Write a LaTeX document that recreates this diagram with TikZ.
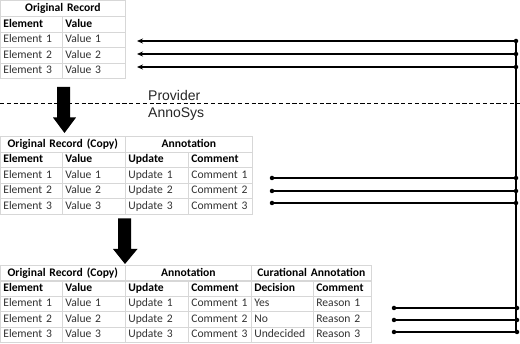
\documentclass[tikz,border=0pt]{standalone}
\usepackage{fontspec}
\setmainfont{Carlito}
\newfontfamily\arialfont{Liberation Sans}
\usetikzlibrary{arrows.meta}
\definecolor{gridc}{RGB}{215,215,215}
\definecolor{txtc}{RGB}{50,50,50}
\tikzset{
  cellbox/.style={draw=gridc, line width=0.7pt, anchor=north west, inner xsep=3pt, inner ysep=0pt,
    minimum height=15.6pt, text height=8pt, text depth=2.2pt, font=\fontsize{11.6}{13}\selectfont, text=txtc, align=left},
  headbox/.style={cellbox, font=\fontsize{11.6}{13}\selectfont\bfseries, text=black},
  titlebox/.style={headbox, align=center},
  conn/.style={line width=1.3pt, black},
  dotend/.style={fill=black, circle, inner sep=0pt, minimum size=4.5pt},
  bigarrow/.style={fill=black, draw=none},
  sidetext/.style={font=\arialfont\fontsize{14}{16}\selectfont, anchor=base west, inner sep=0pt, text=black!85}
}
\newcommand{\tcell}[6]{\node[#6, text width=#4pt-6pt] (#1) at (#2,#3) {#5};}
\begin{document}
\begin{tikzpicture}[x=1pt,y=-1pt]
\useasboundingbox (0,0) rectangle (520,344);
% ---------- Table 1 ----------
\def\ra{0.5}\def\rb{16.1}\def\rc{31.7}\def\rd{47.3}\def\re{62.9}
\tcell{ta}{0}{\ra}{125}{Original Record}{titlebox}
\tcell{tae}{0}{\rb}{62}{Element}{headbox}
\tcell{tav}{62}{\rb}{63}{Value}{headbox}
\tcell{tae1}{0}{\rc}{62}{Element 1}{cellbox}
\tcell{tav1}{62}{\rc}{63}{Value 1}{cellbox}
\tcell{tae2}{0}{\rd}{62}{Element 2}{cellbox}
\tcell{tav2}{62}{\rd}{63}{Value 2}{cellbox}
\tcell{tae3}{0}{\re}{62}{Element 3}{cellbox}
\tcell{tav3}{62}{\re}{63}{Value 3}{cellbox}
% ---------- Table 2 ----------
\def\ra{136}\def\rb{151.6}\def\rc{167.2}\def\rd{182.8}\def\re{198.4}
\tcell{tb}{0}{\ra}{125}{Original Record (Copy)}{titlebox}
\tcell{tbn}{125}{\ra}{127}{Annotation}{titlebox}
\tcell{tbe}{0}{\rb}{62}{Element}{headbox}
\tcell{tbv}{62}{\rb}{63}{Value}{headbox}
\tcell{tbu}{125}{\rb}{63}{Update}{headbox}
\tcell{tbc}{188}{\rb}{64}{Comment}{headbox}
\tcell{tbe1}{0}{\rc}{62}{Element 1}{cellbox}
\tcell{tbv1}{62}{\rc}{63}{Value 1}{cellbox}
\tcell{tbu1}{125}{\rc}{63}{Update 1}{cellbox}
\tcell{tbc1}{188}{\rc}{64}{Comment 1}{cellbox}
\tcell{tbe2}{0}{\rd}{62}{Element 2}{cellbox}
\tcell{tbv2}{62}{\rd}{63}{Value 2}{cellbox}
\tcell{tbu2}{125}{\rd}{63}{Update 2}{cellbox}
\tcell{tbc2}{188}{\rd}{64}{Comment 2}{cellbox}
\tcell{tbe3}{0}{\re}{62}{Element 3}{cellbox}
\tcell{tbv3}{62}{\re}{63}{Value 3}{cellbox}
\tcell{tbu3}{125}{\re}{63}{Update 3}{cellbox}
\tcell{tbc3}{188}{\re}{64}{Comment 3}{cellbox}
% ---------- Table 3 ----------
\def\ra{265}\def\rb{280.4}\def\rc{295.8}\def\rd{311.2}\def\re{326.6}
\tcell{tc}{0}{\ra}{125}{Original Record (Copy)}{titlebox}
\tcell{tcn}{125}{\ra}{126}{Annotation}{titlebox}
\tcell{tcc}{251}{\ra}{120}{Curational Annotation}{titlebox}
\tcell{tce}{0}{\rb}{62}{Element}{headbox}
\tcell{tcv}{62}{\rb}{63}{Value}{headbox}
\tcell{tcu}{125}{\rb}{63}{Update}{headbox}
\tcell{tcm}{188}{\rb}{63}{Comment}{headbox}
\tcell{tcd}{251}{\rb}{62}{Decision}{headbox}
\tcell{tcr}{313}{\rb}{58}{Comment}{headbox}
\tcell{tce1}{0}{\rc}{62}{Element 1}{cellbox}
\tcell{tcv1}{62}{\rc}{63}{Value 1}{cellbox}
\tcell{tcu1}{125}{\rc}{63}{Update 1}{cellbox}
\tcell{tcm1}{188}{\rc}{63}{Comment 1}{cellbox}
\tcell{tcd1}{251}{\rc}{62}{Yes}{cellbox}
\tcell{tcr1}{313}{\rc}{58}{Reason 1}{cellbox}
\tcell{tce2}{0}{\rd}{62}{Element 2}{cellbox}
\tcell{tcv2}{62}{\rd}{63}{Value 2}{cellbox}
\tcell{tcu2}{125}{\rd}{63}{Update 2}{cellbox}
\tcell{tcm2}{188}{\rd}{63}{Comment 2}{cellbox}
\tcell{tcd2}{251}{\rd}{62}{No}{cellbox}
\tcell{tcr2}{313}{\rd}{58}{Reason 2}{cellbox}
\tcell{tce3}{0}{\re}{62}{Element 3}{cellbox}
\tcell{tcv3}{62}{\re}{63}{Value 3}{cellbox}
\tcell{tcu3}{125}{\re}{63}{Update 3}{cellbox}
\tcell{tcm3}{188}{\re}{63}{Comment 3}{cellbox}
\tcell{tcd3}{251}{\re}{62}{Undecided}{cellbox}
\tcell{tcr3}{313}{\re}{58}{Reason 3}{cellbox}
% ---------- Provider / AnnoSys ----------
\coordinate (dl) at (0,103.3);
\coordinate (dr) at (520,103.3);
\draw[line width=1.2pt, dash pattern=on 4.2pt off 2.6pt] (dl) -- (dr);
\node[sidetext] (prov) at (148,101) {Provider};
\node[sidetext] (anno) at (148,117.5) {AnnoSys};
% ---------- Big arrows ----------
\fill[bigarrow] (57,87) -- (70,87) -- (70,117.5) -- (76,117.5) -- (64.5,133) -- (53,117.5) -- (57,117.5) -- cycle;
\fill[bigarrow] (118,218.5) -- (131,218.5) -- (131,249) -- (137.5,249) -- (125,264) -- (113,249) -- (118,249) -- cycle;
% ---------- Connectors ----------
\coordinate (v1) at (516,41);
\coordinate (v2) at (516,54);
\coordinate (v3) at (516,67);
\coordinate (a1) at (137,41);
\coordinate (a2) at (137,54);
\coordinate (a3) at (137,67);
\coordinate (m1) at (516,178);
\coordinate (m2) at (516,191);
\coordinate (m3) at (516,203);
\coordinate (n1) at (272,178);
\coordinate (n2) at (272,191);
\coordinate (n3) at (272,203);
\coordinate (b1) at (517,308);
\coordinate (b2) at (517,320);
\coordinate (b3) at (517,332);
\coordinate (c1) at (394,308);
\coordinate (c2) at (394,320);
\coordinate (c3) at (394,332);
\draw[conn] (516,41) -- (516,332);
\foreach \i in {1,2,3}{
  \draw[conn, -{Stealth[length=6pt,width=5pt]}] (v\i) -- (a\i);
  \draw[conn] (m\i) -- (n\i);
  \draw[conn] (b\i) -- (c\i);
  \node[dotend] at (v\i) {};
  \node[dotend] at (m\i) {};
  \node[dotend] at (n\i) {};
  \node[dotend] at (b\i) {};
  \node[dotend] at (c\i) {};
}
\end{tikzpicture}
\end{document}
